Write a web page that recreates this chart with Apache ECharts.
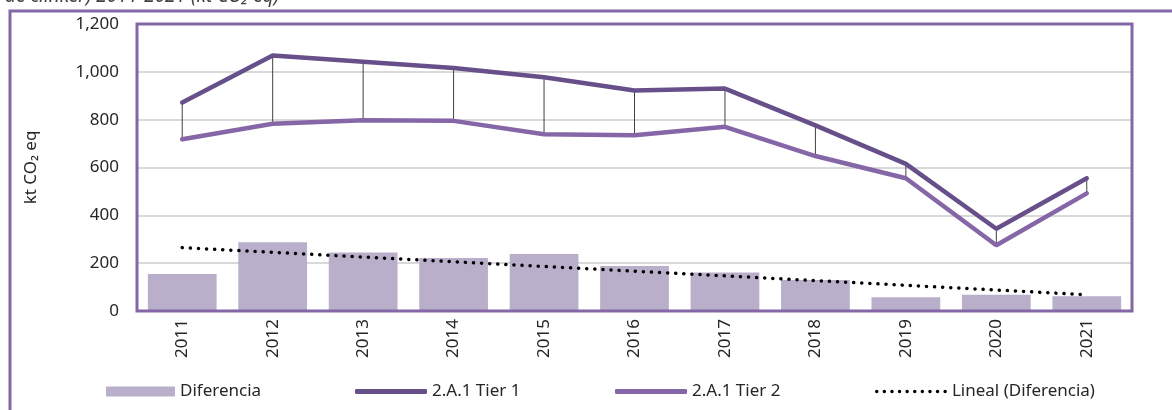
<!DOCTYPE html>
<html>
<head>
<meta charset="utf-8">
<script src="https://cdn.jsdelivr.net/npm/echarts@6/dist/echarts.min.js"></script>
<style>
html,body{margin:0;padding:0;background:#fff;}
#c{width:1172px;height:410px;}
</style>
</head>
<body>
<div id="c"></div>
<script>
const years = ['2011','2012','2013','2014','2015','2016','2017','2018','2019','2020','2021'];
const diferencia = [155, 287, 245, 222, 238, 188, 161, 130, 58, 68, 62];
const tier1 = [872, 1068, 1042, 1016, 977, 922, 930, 776, 615, 344, 555];
const tier2 = [718, 783, 798, 795, 739, 735, 770, 648, 555, 275, 492];
const trend = [265, null, null, null, null, null, null, null, null, null, 68];
const yTicks = [0, 200, 400, 600, 800, 1000, 1200];

const PURPLE = '#8467a6';
const C1 = '#67508a';
const C2 = '#8566a7';
const CB = '#b9afcb';
const FONT = 'Noto Sans';
const FS = 17;

// dotted legend icon path (10 dots)
let dotPath = 'path://';
for (let k = 0; k < 10; k++) {
  const cx = 1.75 + k * 7.6;
  dotPath += 'M' + (cx - 1.75) + ' 1.75 a1.75 1.75 0 1 0 3.5 0 a1.75 1.75 0 1 0 -3.5 0 ';
}

const chart = echarts.init(document.getElementById('c'));
const legendBase = {
  orient: 'horizontal', top: 378, itemGap: 0,
  textStyle: {fontFamily: FONT, fontSize: FS, color: '#262626'}
};
chart.setOption({
  animation: false,
  title: {
    text: 'de clínker) 2011-2021 (kt CO\u2082 eq)',
    left: 0, top: -18,
    textStyle: {fontFamily: FONT, fontSize: 19, fontStyle: 'italic', fontWeight: 'normal', color: '#404040'}
  },
  graphic: [{
    type: 'rect', shape: {x: 10, y: 11, width: 1300, height: 500},
    style: {fill: 'none', stroke: PURPLE, lineWidth: 3}, z: -1
  }],
  grid: {left: 137, right: 40, top: 24, bottom: 99, show: true, borderColor: PURPLE, borderWidth: 3, backgroundColor: 'transparent', z: 5},
  legend: [
    Object.assign({}, legendBase, {left: 101, itemWidth: 69, itemHeight: 10, data: [{name: 'Diferencia', icon: 'rect'}]}),
    Object.assign({}, legendBase, {left: 350, itemWidth: 72, itemHeight: 5, data: [{name: '2.A.1 Tier 1', icon: 'roundRect'}]}),
    Object.assign({}, legendBase, {left: 610, itemWidth: 72, itemHeight: 5, data: [{name: '2.A.1 Tier 2', icon: 'roundRect'}]}),
    Object.assign({}, legendBase, {left: 870, itemWidth: 72, itemHeight: 3.5, data: [{name: 'Lineal (Diferencia)', icon: dotPath}]})
  ],
  xAxis: {
    type: 'category', data: years, boundaryGap: true,
    axisLine: {show: false}, axisTick: {show: false},
    axisLabel: {rotate: 90, margin: 8, fontFamily: FONT, fontSize: FS, color: '#262626'}
  },
  yAxis: {
    type: 'value', min: 0, max: 1200, interval: 200,
    name: 'kt CO\u2082 eq', nameLocation: 'middle', nameGap: 97, nameRotate: 90,
    nameTextStyle: {fontFamily: FONT, fontSize: FS, color: '#262626'},
    axisLine: {show: false}, axisTick: {show: false},
    axisLabel: {margin: 18, fontFamily: FONT, fontSize: FS, color: '#262626',
      formatter: v => yTicks.includes(v) ? v.toLocaleString('en-US') : ''},
    splitLine: {lineStyle: {color: '#d9d9d9', width: 2}}
  },
  series: [
    {name: 'Diferencia', type: 'bar', data: diferencia, barCategoryGap: '24%',
      itemStyle: {color: CB}, z: 1},
    {name: 'drop', type: 'custom', data: years.map((y, i) => [i, tier1[i], tier2[i]]),
      renderItem: function (params, api) {
        const a = api.coord([api.value(0), api.value(1)]);
        const b = api.coord([api.value(0), api.value(2)]);
        return {type: 'line', shape: {x1: a[0], y1: a[1], x2: b[0], y2: b[1]},
          style: {stroke: '#404040', lineWidth: 1}};
      }, z: 2, silent: true},
    {name: '2.A.1 Tier 1', type: 'line', data: tier1, symbol: 'none',
      lineStyle: {color: C1, width: 4.5, cap: 'round'}, itemStyle: {color: C1}, z: 3},
    {name: '2.A.1 Tier 2', type: 'line', data: tier2, symbol: 'none',
      lineStyle: {color: C2, width: 4.5, cap: 'round'}, itemStyle: {color: C2}, z: 3},
    {name: 'Lineal (Diferencia)', type: 'line', data: trend, connectNulls: true, symbol: 'none',
      lineStyle: {color: '#000', width: 3.5, type: [0.1, 8], cap: 'round'}, itemStyle: {color: '#000'}, z: 4}
  ]
});
</script>
</body>
</html>
